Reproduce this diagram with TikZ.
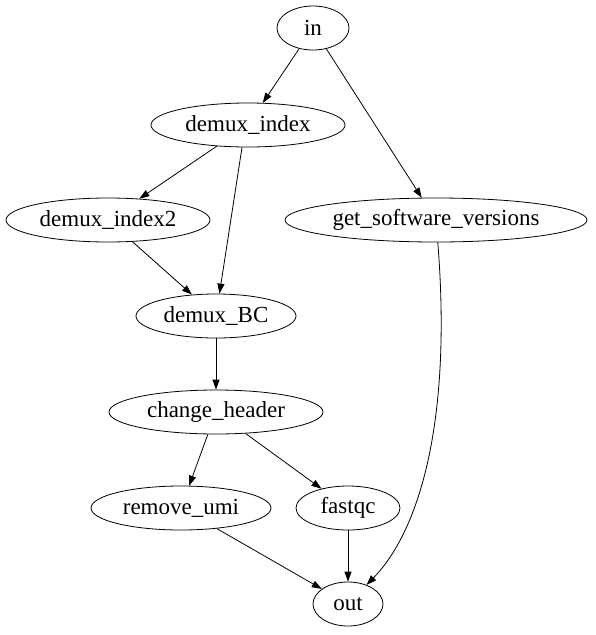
\documentclass[tikz,border=0pt]{standalone}
\usepackage{fontspec}
\setmainfont{Liberation Serif}
\usepackage{tikz}
\usetikzlibrary{arrows.meta,shapes.geometric}

\begin{document}
\begin{tikzpicture}[x=1pt,y=-1pt,
          every node/.style={font=\fontsize{23}{26}\selectfont},
          proc/.style={draw,ellipse,inner sep=0pt,minimum height=44pt,line width=0.8pt},
          arr/.style={-{Triangle[length=10pt,width=7pt]},line width=0.8pt},
      ]
        \useasboundingbox (0,0) rectangle (596,635);
        \node[proc,minimum width=72pt] (in) at (313,28) {in};
        \node[proc,minimum width=194pt] (dxi) at (248,125) {demux\_index};
        \node[proc,minimum width=204pt] (dxi2) at (108,220) {demux\_index2};
        \node[proc,minimum width=302pt] (gsv) at (436,220) {get\_software\_versions};
        \node[proc,minimum width=160pt] (dbc) at (216,316) {demux\_BC};
        \node[proc,minimum width=214pt] (chh) at (216,412) {change\_header};
        \node[proc,minimum width=180pt] (rmu) at (181,508) {remove\_umi};
        \node[proc,minimum width=104pt] (fqc) at (348,508) {fastqc};
        \node[proc,minimum width=70pt] (out) at (348,604) {out};

        \draw[arr] (in) -- (dxi);
        \draw[arr] (in) -- (gsv);
        \draw[arr] (dxi) -- (dxi2);
        \draw[arr] (dxi.south) ++(-6,0) -- (dbc);
        \draw[arr] (dxi2) -- (dbc);
        \draw[arr] (dbc) -- (chh);
        \draw[arr] (chh) -- (rmu);
        \draw[arr] (chh) -- (fqc);
        \draw[arr] (rmu) -- (out);
        \draw[arr] (fqc) -- (out);
        % long way round on the right
        \draw[arr] (gsv) .. controls (452,420) and (420,530) .. (out);
      \end{tikzpicture}
\end{document}
